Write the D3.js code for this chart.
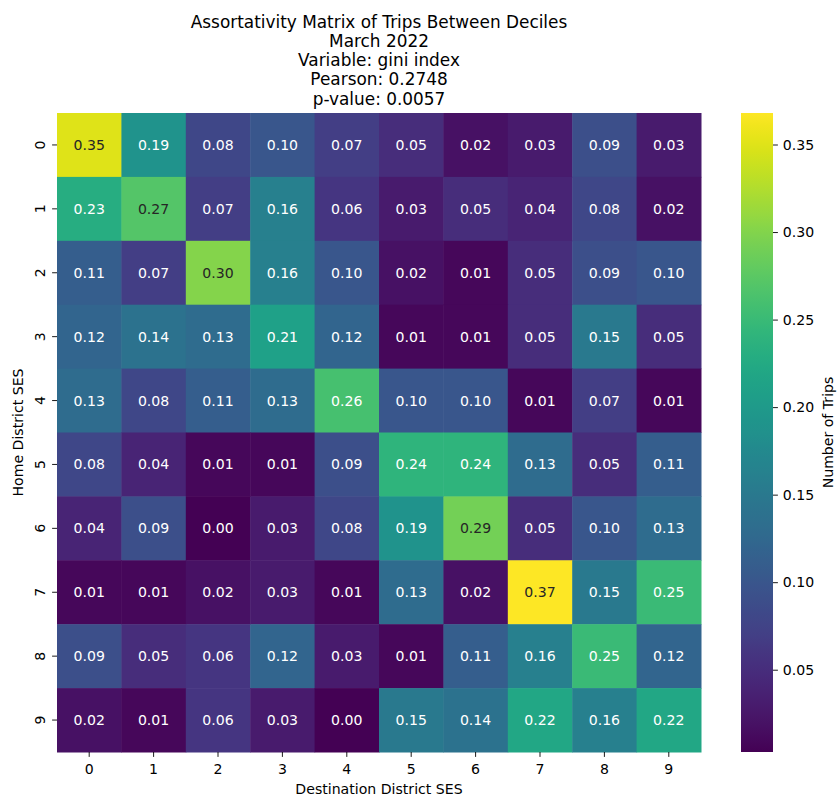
<!DOCTYPE html>
<html>
<head>
<meta charset="utf-8">
<script src="https://cdn.jsdelivr.net/npm/d3@7"></script>
<style>
  body { margin: 0; background: #fff; }
  svg text { font-family: "DejaVu Sans", sans-serif; }
</style>
</head>
<body>
<div id="chart"></div>
<script>
'use strict';

// Data Inputs
const titleLines = [
    'Assortativity Matrix of Trips Between Deciles',
    'March 2022',
    'Variable: gini index',
    'Pearson: 0.2748',
    'p-value: 0.0057'
];

const homeDeciles = ['0', '1', '2', '3', '4', '5', '6', '7', '8', '9'];
const destDeciles = ['0', '1', '2', '3', '4', '5', '6', '7', '8', '9'];

const matrix = [
    [0.35, 0.19, 0.08, 0.10, 0.07, 0.05, 0.02, 0.03, 0.09, 0.03],
    [0.23, 0.27, 0.07, 0.16, 0.06, 0.03, 0.05, 0.04, 0.08, 0.02],
    [0.11, 0.07, 0.30, 0.16, 0.10, 0.02, 0.01, 0.05, 0.09, 0.10],
    [0.12, 0.14, 0.13, 0.21, 0.12, 0.01, 0.01, 0.05, 0.15, 0.05],
    [0.13, 0.08, 0.11, 0.13, 0.26, 0.10, 0.10, 0.01, 0.07, 0.01],
    [0.08, 0.04, 0.01, 0.01, 0.09, 0.24, 0.24, 0.13, 0.05, 0.11],
    [0.04, 0.09, 0.00, 0.03, 0.08, 0.19, 0.29, 0.05, 0.10, 0.13],
    [0.01, 0.01, 0.02, 0.03, 0.01, 0.13, 0.02, 0.37, 0.15, 0.25],
    [0.09, 0.05, 0.06, 0.12, 0.03, 0.01, 0.11, 0.16, 0.25, 0.12],
    [0.02, 0.01, 0.06, 0.03, 0.00, 0.15, 0.14, 0.22, 0.16, 0.22]
];

// colour range of the underlying (unrounded) data
const colorDomain = [0.003, 0.368];
const colorTicks  = [0.05, 0.10, 0.15, 0.20, 0.25, 0.30, 0.35];


// Layout
const W = 837,
      H = 798;

const plotLeft   = 57,
      plotRight  = 701,
      plotTop    = 113,
      plotBottom = 752;

const cbLeft  = 741,
      cbRight = 773;

const fontSize  = 14.1,
      titleSize = 16.9,
      tickLen   = 4.9;

const svg = d3.select('#chart')
    .append('svg')
    .attr('width', W)
    .attr('height', H);

const x = d3.scaleBand().domain(destDeciles).range([plotLeft, plotRight]);
const y = d3.scaleBand().domain(homeDeciles).range([plotTop, plotBottom]);

const color = d3.scaleSequential(d3.interpolateViridis).domain(colorDomain);

// seaborn style text colour: dark text on light cells
function textColor(v) {
    const c = d3.rgb(color(v));
    const lin = ch => {
        ch = ch / 255;
        return ch <= 0.03928 ? ch / 12.92 : Math.pow((ch + 0.055) / 1.055, 2.4);
    };
    const lum = 0.2126 * lin(c.r) + 0.7152 * lin(c.g) + 0.0722 * lin(c.b);
    return lum > 0.408 ? '#262626' : '#ffffff';
}

const cells = [];
matrix.forEach((row, i) => {
    row.forEach((v, j) => {
        cells.push({row: homeDeciles[i], col: destDeciles[j], value: v});
    });
});


// Heatmap
svg.append('g')
    .selectAll('rect')
    .data(cells)
    .enter()
    .append('rect')
    .attr('x', d => x(d.col))
    .attr('y', d => y(d.row))
    .attr('width', x.bandwidth() + 0.5)
    .attr('height', y.bandwidth() + 0.5)
    .attr('fill', d => color(d.value));

svg.append('g')
    .selectAll('text')
    .data(cells)
    .enter()
    .append('text')
    .attr('x', d => x(d.col) + x.bandwidth() / 2)
    .attr('y', d => y(d.row) + y.bandwidth() / 2)
    .attr('text-anchor', 'middle')
    .attr('dominant-baseline', 'central')
    .attr('font-size', fontSize)
    .attr('fill', d => textColor(d.value))
    .text(d => d.value.toFixed(2));


// Axes
const xAxis = svg.append('g')
    .attr('transform', `translate(0,${plotBottom})`)
    .call(d3.axisBottom(x).tickSize(tickLen).tickPadding(0));

xAxis.select('.domain').remove();
xAxis.selectAll('line').attr('stroke', '#000').attr('stroke-width', 0.9);
xAxis.selectAll('text')
    .attr('y', 22)
    .attr('dy', 0)
    .attr('font-size', fontSize)
    .attr('font-family', '"DejaVu Sans", sans-serif')
    .attr('fill', '#000');

const yAxis = svg.append('g')
    .attr('transform', `translate(${plotLeft},0)`)
    .call(d3.axisLeft(y).tickSize(tickLen).tickPadding(0));

yAxis.select('.domain').remove();
yAxis.selectAll('line').attr('stroke', '#000').attr('stroke-width', 0.9);
yAxis.selectAll('text')
    .attr('transform', 'rotate(-90)')
    .attr('x', 0)
    .attr('y', -12.5)
    .attr('dy', 0)
    .attr('text-anchor', 'middle')
    .attr('font-size', fontSize)
    .attr('font-family', '"DejaVu Sans", sans-serif')
    .attr('fill', '#000');

svg.append('text')
    .attr('x', (plotLeft + plotRight) / 2)
    .attr('y', 794)
    .attr('text-anchor', 'middle')
    .attr('font-size', fontSize)
    .text('Destination District SES');

svg.append('text')
    .attr('transform', `translate(23,${(plotTop + plotBottom) / 2}) rotate(-90)`)
    .attr('text-anchor', 'middle')
    .attr('font-size', fontSize)
    .text('Home District SES');


// Title
svg.append('g')
    .selectAll('text')
    .data(titleLines)
    .enter()
    .append('text')
    .attr('x', (plotLeft + plotRight) / 2)
    .attr('y', (d, i) => 27.7 + i * 19.2)
    .attr('text-anchor', 'middle')
    .attr('font-size', titleSize)
    .text(d => d);


// Colorbar
const cbScale = d3.scaleLinear().domain(colorDomain).range([plotBottom, plotTop]);

const grad = svg.append('defs')
    .append('linearGradient')
    .attr('id', 'cbGrad')
    .attr('x1', 0).attr('y1', 1)
    .attr('x2', 0).attr('y2', 0);

grad.selectAll('stop')
    .data(d3.range(0, 1.0001, 0.02))
    .enter()
    .append('stop')
    .attr('offset', t => t)
    .attr('stop-color', t => d3.interpolateViridis(t));

svg.append('rect')
    .attr('x', cbLeft)
    .attr('y', plotTop)
    .attr('width', cbRight - cbLeft)
    .attr('height', plotBottom - plotTop)
    .attr('fill', 'url(#cbGrad)');

const cbAxis = svg.append('g')
    .attr('transform', `translate(${cbRight},0)`)
    .call(d3.axisRight(cbScale)
        .tickValues(colorTicks)
        .tickFormat(d3.format('.2f'))
        .tickSize(tickLen)
        .tickPadding(4.9));

cbAxis.select('.domain').remove();
cbAxis.selectAll('line').attr('stroke', '#000').attr('stroke-width', 0.9);
cbAxis.selectAll('text')
    .attr('font-size', fontSize)
    .attr('font-family', '"DejaVu Sans", sans-serif')
    .attr('fill', '#000');

svg.append('text')
    .attr('transform', `translate(833,${(plotTop + plotBottom) / 2}) rotate(-90)`)
    .attr('text-anchor', 'middle')
    .attr('font-size', fontSize)
    .text('Number of Trips');
</script>
</body>
</html>
